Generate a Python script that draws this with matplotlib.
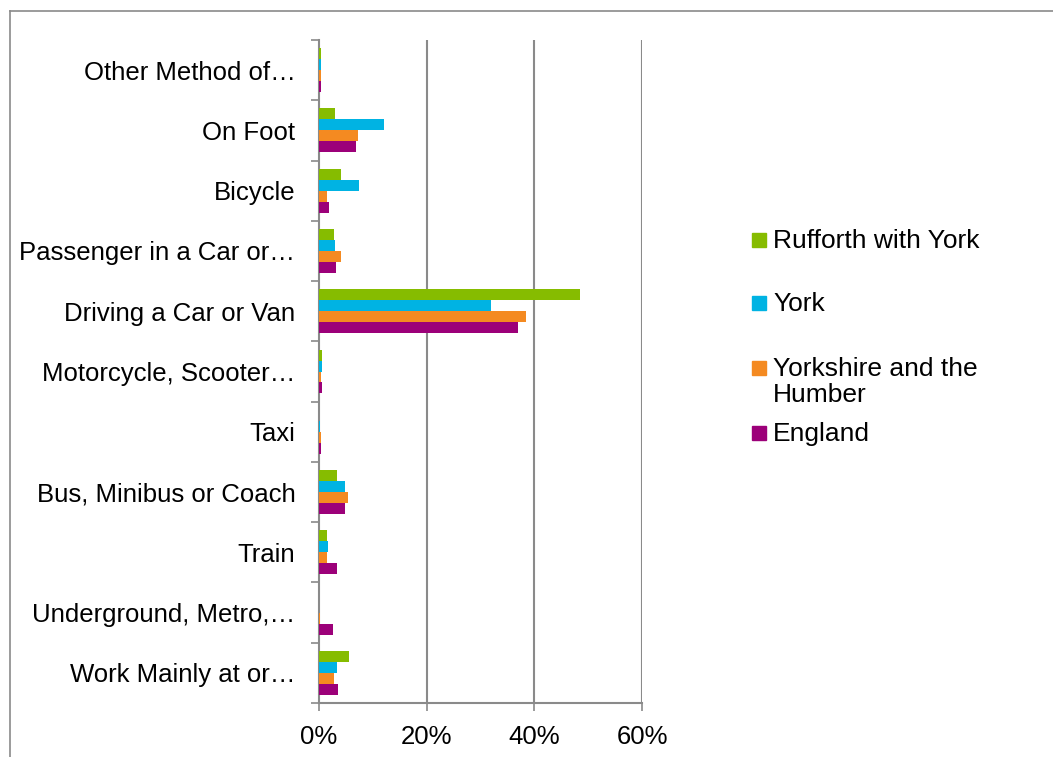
import matplotlib as mpl
mpl.use('Agg')
import matplotlib.pyplot as plt
from matplotlib.patches import Rectangle
from matplotlib.lines import Line2D
from matplotlib.ticker import FixedLocator, FuncFormatter
import numpy as np

plt.rcParams['font.family'] = ['Liberation Sans', 'DejaVu Sans']

# method of travel to work, share of working residents (%)
categories = ["Other Method of\u2026", "On Foot", "Bicycle", "Passenger in a Car or\u2026",
              "Driving a Car or Van", "Motorcycle, Scooter\u2026", "Taxi",
              "Bus, Minibus or Coach", "Train", "Underground, Metro,\u2026",
              "Work Mainly at or\u2026"]
series_names = ["Rufforth with York", "York", "Yorkshire and the\nHumber", "England"]
rufforth = [0.4, 2.9, 4.0, 2.8, 48.4, 0.5, 0.0, 3.3, 1.5, 0.0, 5.6]
york = [0.3, 12.1, 7.5, 3.0, 32.0, 0.6, 0.2, 4.8, 1.6, 0.0, 3.3]
yorkshire = [0.4, 7.3, 1.4, 4.0, 38.5, 0.4, 0.4, 5.3, 1.4, 0.2, 2.8]
england = [0.4, 6.9, 1.8, 3.2, 37.0, 0.5, 0.3, 4.8, 3.4, 2.6, 3.5]
x_ticks = [0, 20, 40, 60]

colors = ["#86BC00", "#00B3E3", "#F48A21", "#9C0079"]
grey = "#8A8A8A"
W, H = 1053, 757
fs = 18.5

fig = plt.figure(figsize=(W / 100, H / 100), dpi=100)
ax = fig.add_axes([319 / W, 1 - 703 / H, (642 - 319) / W, (703 - 40) / H])

y = np.arange(len(categories))
h = 1 / 5.5
for k, vals in enumerate([rufforth, york, yorkshire, england]):
    ax.barh(y + (k - 1.5) * h, vals, height=h, color=colors[k], zorder=3)

ax.set_xlim(0, 60)
ax.set_ylim(len(categories) - 0.5, -0.5)

# vertical gridlines
for t in x_ticks[1:]:
    ax.axvline(t, color=grey, lw=1.5, zorder=1)

for s in ['top', 'right']:
    ax.spines[s].set_visible(False)
for s in ['left', 'bottom']:
    ax.spines[s].set_color(grey)
    ax.spines[s].set_linewidth(1.5)

ax.set_xticks(x_ticks)
ax.xaxis.set_major_formatter(FuncFormatter(lambda v, p: f"{v:.0f}%"))
ax.tick_params(axis='x', direction='out', length=5.5, width=1.2, color=grey,
               labelsize=fs, pad=10)

ax.set_yticks(y)
ax.set_yticklabels(categories)
ax.yaxis.set_minor_locator(FixedLocator(np.arange(len(categories) + 1) - 0.5))
ax.tick_params(axis='y', which='major', length=0, labelsize=fs, pad=17)
ax.tick_params(axis='y', which='minor', direction='out', length=5.8, width=1.2, color=grey)

# legend drawn by hand so the marker sits on the first text line
leg_x = 752 / W
leg_y = [240, 303, 368, 433]
for k, name in enumerate(series_names):
    yy = 1 - leg_y[k] / H
    fig.patches.append(Rectangle((leg_x, yy - 7 / H), 14 / W, 14 / H, color=colors[k],
                                 transform=fig.transFigure, figure=fig))
    fig.text(773 / W, yy + 11 / H, name, fontsize=19, va='top', ha='left',
             linespacing=1.08)

# chart frame
fig.add_artist(Line2D([10 / W, 10 / W], [0, 1 - 11 / H], color=grey, lw=1.2,
                      transform=fig.transFigure))
fig.add_artist(Line2D([10 / W, 1], [1 - 11 / H, 1 - 11 / H], color=grey, lw=1.2,
                      transform=fig.transFigure))

fig.savefig('out.png', dpi=100)
